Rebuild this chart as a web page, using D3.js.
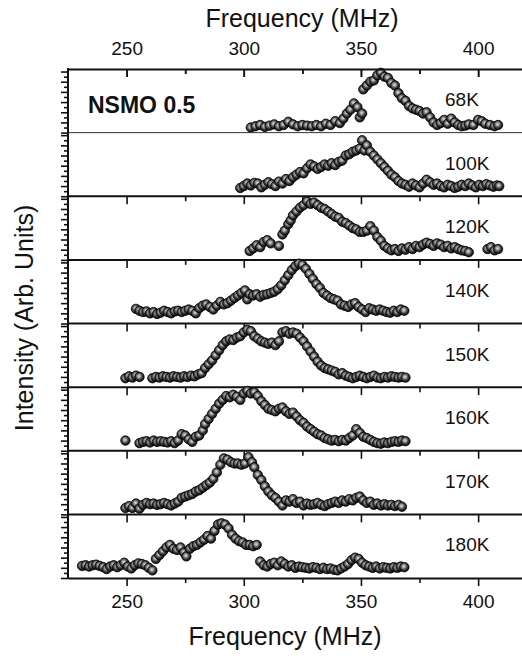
<!DOCTYPE html>
<html>
<head>
<meta charset="utf-8">
<script src="https://cdn.jsdelivr.net/npm/d3@7"></script>
<style>
  body { margin: 0; background: #fff; }
  text { font-family: 'Liberation Sans', Arial, sans-serif; fill: #111; }
</style>
</head>
<body>
<div id="canvas"></div>
<script>
/* global d3 */

// temperatures, one panel each (top to bottom)
const temps = ['68K', '100K', '120K', '140K', '150K', '160K', '170K', '180K']

// [frequency MHz, intensity (arb., 0..1 of panel)]
const s68 = [[303,.08],[305,.1],[307,.12],[309,.09],[311,.11],[313,.13],[315,.1],[317,.12],[319,.17],[321,.13],[323,.1],[325,.12],[327,.11],[329,.1],[331,.12],[333,.1],[335,.14],[337,.12],[339,.18],[341,.15],[342.5,.22],[344,.3],[345.5,.36],[347,.46],[348.5,.4],[349.5,.24],[350.5,.3],[351,.68],[352.5,.74],[354,.8],[355.5,.82],[357,.9],[358.5,.94],[360,.88],[361.5,.86],[363,.78],[364.5,.74],[366,.62],[367.5,.54],[369,.5],[370.5,.42],[372,.38],[373.5,.36],[375,.34],[376.5,.3],[378,.32],[379.5,.24],[381,.16],[382.5,.12],[384,.15],[385.5,.2],[387,.14],[388.5,.22],[390,.16],[391.5,.12],[393,.1],[394.5,.11],[396,.13],[398,.12],[400,.2],[401.5,.18],[403,.14],[405,.12],[407,.1],[408.5,.12]]

const s100 = [[298.5,.13],[300,.16],[301.5,.2],[303,.17],[304.5,.21],[306,.2],[307.5,.14],[309,.18],[310.5,.22],[312,.19],[313.5,.16],[315,.23],[316.5,.2],[318,.27],[319.5,.24],[321,.3],[322.5,.34],[324,.38],[325.5,.36],[327,.44],[328.5,.5],[330,.47],[331.5,.43],[333,.46],[334.5,.5],[336,.48],[337.5,.52],[339,.49],[340.5,.54],[342,.56],[343.5,.64],[345,.66],[346.5,.7],[348,.72],[349.5,.75],[350.5,.88],[351.5,.72],[352.5,.8],[354,.7],[355.5,.64],[357,.58],[358.5,.52],[360,.46],[361.5,.4],[363,.34],[364.5,.3],[366,.24],[367.5,.2],[369,.18],[370.5,.15],[372,.2],[373.5,.17],[375,.14],[376.5,.2],[378,.26],[379.5,.22],[381,.18],[382.5,.2],[384,.16],[385.5,.14],[387,.18],[388.5,.16],[390,.13],[391.5,.15],[393,.18],[394.5,.16],[396,.2],[397.5,.17],[399,.14],[400.5,.18],[402,.16],[403.5,.19],[405,.17],[406.5,.15],[408,.17],[409,.16]]

const s120 = [[302.5,.14],[304,.18],[305.5,.23],[307,.2],[308.5,.28],[310,.31],[311.5,.26],[315,.22],[316.5,.4],[317.5,.46],[319,.56],[320,.62],[321,.7],[322.5,.76],[324,.82],[325.5,.86],[327,.92],[328.5,.88],[330,.9],[331.5,.86],[333,.82],[334.5,.8],[336,.76],[337.5,.72],[339,.68],[340.5,.66],[342,.6],[343.5,.58],[345,.54],[346.5,.5],[348,.48],[349.5,.44],[351,.44],[352.5,.46],[354,.53],[355.5,.46],[357,.36],[358.5,.3],[360,.22],[361.5,.18],[363,.15],[364.5,.17],[366,.14],[367.5,.18],[369,.16],[370.5,.2],[372,.17],[373.5,.22],[375,.2],[376.5,.24],[378,.27],[379.5,.25],[381,.22],[382.5,.26],[384,.24],[385.5,.2],[387,.22],[388.5,.18],[390,.2],[391.5,.17],[393,.15],[394.5,.14],[396,.12],[404,.17],[405.5,.2],[407,.15],[408.5,.17]]

const s140 = [[254,.23],[255.5,.2],[257,.18],[258.5,.19],[260,.16],[261.5,.18],[263,.15],[264.5,.17],[266,.2],[267.5,.18],[269,.16],[270.5,.19],[272,.2],[273.5,.18],[275,.2],[276.5,.22],[278,.2],[279.5,.16],[281,.24],[282.5,.28],[284,.3],[285.5,.26],[287,.22],[288.5,.28],[290,.34],[291.5,.3],[293,.32],[294.5,.36],[296,.4],[297.5,.44],[299,.48],[300.5,.52],[301.5,.38],[302.5,.46],[304,.44],[305.5,.46],[307,.42],[308.5,.45],[310,.46],[311.5,.48],[313,.5],[314.5,.54],[316,.6],[317.5,.68],[319,.76],[320.5,.84],[322,.9],[323.5,.94],[325,.92],[326.5,.86],[328,.78],[329.5,.7],[331,.62],[332.5,.56],[334,.48],[335.5,.44],[337,.4],[338.5,.38],[340,.36],[341.5,.3],[343,.28],[344.5,.26],[346,.3],[347.5,.32],[349,.26],[350.5,.22],[352,.18],[353.5,.24],[355,.22],[356.5,.2],[358,.22],[359.5,.2],[361,.18],[362.5,.17],[364,.2],[365.5,.18],[367,.22],[368.5,.2]]

const s150 = [[249.5,.14],[251,.17],[252.5,.15],[254,.18],[255.5,.16],[261,.14],[262.5,.16],[264,.15],[265.5,.17],[267,.16],[268.5,.15],[270,.17],[271.5,.16],[273,.15],[274.5,.17],[276,.16],[277.5,.18],[279,.17],[280.5,.2],[282,.22],[283.5,.3],[285,.36],[286.5,.42],[288,.5],[289.5,.58],[291,.66],[292.5,.72],[294,.75],[295.5,.74],[297,.78],[298.5,.8],[300,.86],[301.5,.9],[303,.88],[304.5,.8],[306,.76],[307.5,.72],[309,.7],[310.5,.68],[312,.7],[313.5,.66],[315,.72],[316.5,.86],[318,.88],[319.5,.84],[321,.86],[322.5,.84],[324,.78],[325.5,.72],[327,.64],[328.5,.56],[330,.48],[331.5,.4],[333,.34],[334.5,.3],[336,.28],[337.5,.26],[339,.24],[340.5,.2],[342,.22],[343.5,.18],[345,.16],[346.5,.14],[348,.16],[349.5,.18],[351,.16],[352.5,.14],[354,.16],[355.5,.18],[357,.15],[358.5,.14],[360,.16],[361.5,.15],[363,.17],[364.5,.16],[366,.15],[367.5,.16],[369,.15]]

const s160 = [[249.5,.16],[255.5,.12],[257,.14],[258.5,.15],[260,.13],[261.5,.16],[263,.14],[264.5,.15],[266,.14],[267.5,.13],[269,.15],[270.5,.12],[272,.16],[273.5,.26],[275,.24],[276.5,.18],[278,.14],[279.5,.22],[281,.24],[282.5,.32],[283.5,.42],[285,.5],[286.5,.58],[288,.66],[289.5,.74],[291,.8],[292.5,.86],[294,.84],[295.5,.88],[297,.85],[298.5,.8],[300,.9],[301.5,.94],[303,.9],[304.5,.92],[306,.86],[307.5,.78],[309,.72],[310.5,.66],[312,.64],[313.5,.62],[315,.66],[316.5,.68],[318,.62],[319.5,.58],[321,.6],[322.5,.54],[324,.48],[325.5,.44],[327,.38],[328.5,.34],[330,.3],[331.5,.26],[333,.24],[334.5,.2],[336,.18],[337.5,.16],[339,.17],[340.5,.15],[342,.17],[343.5,.16],[345,.2],[346.5,.24],[348,.34],[349.5,.28],[351,.22],[352.5,.2],[354,.17],[355.5,.14],[357,.12],[358.5,.11],[360,.13],[361.5,.12],[363,.14],[364.5,.15],[366,.14],[367.5,.16],[369,.15]]

const s170 = [[249.5,.1],[251,.13],[252.5,.1],[254,.17],[255.5,.09],[257,.15],[258.5,.18],[260,.16],[261.5,.17],[263,.15],[264.5,.16],[266,.18],[267.5,.16],[269,.14],[270.5,.17],[272,.2],[273.5,.26],[275,.28],[276.5,.3],[278,.32],[279.5,.36],[281,.38],[282.5,.42],[284,.46],[285.5,.5],[287,.56],[288.5,.66],[290,.78],[291.5,.88],[293,.86],[294.5,.82],[296,.8],[297.5,.8],[299,.78],[300.5,.8],[302,.9],[303.5,.82],[304.5,.74],[306,.62],[307.5,.54],[309,.44],[310.5,.36],[312,.3],[313.5,.26],[315,.2],[316.5,.14],[318,.22],[319.5,.2],[321,.24],[322.5,.18],[324,.2],[325.5,.14],[327,.17],[328.5,.15],[330,.16],[331.5,.18],[333,.15],[334.5,.13],[336,.16],[337.5,.18],[339,.2],[340.5,.18],[342,.22],[343.5,.2],[345,.24],[346.5,.22],[348,.26],[349.5,.28],[351,.22],[352.5,.18],[354,.2],[355.5,.15],[357,.17],[358.5,.14],[360,.16],[361.5,.14],[363,.15],[364.5,.13],[366,.15],[367.5,.12]]

const s180 = [[231,.19],[232.5,.2],[234,.18],[235.5,.2],[237,.21],[238.5,.19],[240,.17],[241.5,.14],[243,.18],[244.5,.2],[246,.17],[247.5,.2],[249,.24],[250.5,.18],[252,.15],[253.5,.2],[255,.23],[256.5,.22],[258,.2],[259.5,.16],[261,.12],[262.5,.3],[264,.36],[265.5,.42],[267,.48],[268.5,.52],[270,.46],[271.5,.44],[273,.48],[274.5,.4],[275.5,.34],[277,.46],[278.5,.5],[280,.52],[281.5,.56],[283,.6],[284.5,.66],[286,.62],[287.5,.74],[289,.84],[290.5,.86],[292,.84],[293.5,.78],[295,.68],[296.5,.62],[298,.58],[299.5,.56],[301,.52],[302.5,.52],[304,.5],[305.5,.52],[307,.26],[308.5,.2],[310,.18],[311.5,.22],[313,.24],[314.5,.2],[316,.26],[317.5,.22],[319,.18],[320.5,.2],[322,.16],[323.5,.18],[325,.17],[326.5,.16],[328,.15],[329.5,.17],[331,.16],[332.5,.14],[334,.16],[335.5,.14],[337,.15],[338.5,.13],[340,.12],[341.5,.15],[343,.18],[344.5,.22],[346,.28],[347.5,.32],[349,.3],[350.5,.24],[352,.2],[353.5,.18],[355,.16],[356.5,.18],[358,.15],[359.5,.17],[361,.16],[362.5,.15],[364,.17],[365.5,.16],[367,.18],[368.5,.17]]

const spectra = [s68, s100, s120, s140, s150, s160, s170, s180]

const majorTicks = [250, 300, 350, 400]
const minorTicks = [275, 325, 375]

var margin = {top: 69, left: 68, bottom: 578},
  width = 522,
  height = 656

var svg = d3.select('#canvas')
  .append('svg')
  .attr('width', width)
  .attr('height', height)

// shaded ball marker
var grad = svg.append('defs').append('radialGradient')
  .attr('id', 'ball')
  .attr('cx', '45%').attr('cy', '42%').attr('r', '58%')
grad.append('stop').attr('offset', '0%').attr('stop-color', '#e6e6e6')
grad.append('stop').attr('offset', '30%').attr('stop-color', '#9a9a9a')
grad.append('stop').attr('offset', '62%').attr('stop-color', '#3c3c3c')
grad.append('stop').attr('offset', '100%').attr('stop-color', '#080808')

const x = d3.scaleLinear()
  .domain([225, 420])
  .range([margin.left, 525])

const band = d3.scaleBand()
  .domain(temps)
  .range([margin.top, margin.bottom])

// the 100K panel has no tick marks on its upper edge
const hasTopTicks = t => t !== '100K'

function clean (g) {
  g.select('.domain').remove()
  g.selectAll('line').attr('stroke', '#111').attr('stroke-width', 1.6)
}

temps.forEach((t, i) => {
  const top = band(t)
  const bot = top + band.bandwidth()
  const y = d3.scaleLinear().domain([0, 1]).range([bot, top])

  // separator line
  if (i > 0) {
    svg.append('line')
      .attr('x1', margin.left).attr('x2', width)
      .attr('y1', top).attr('y2', top)
      .attr('stroke', i === 1 ? '#333' : '#111')
      .attr('stroke-width', i === 1 ? 1 : 2)
  }

  if (hasTopTicks(t)) {
    svg.append('g')
      .attr('transform', `translate(0,${top})`)
      .call(d3.axisBottom(x).tickValues(majorTicks).tickSize(8).tickFormat(''))
      .call(clean)
    svg.append('g')
      .attr('transform', `translate(0,${top})`)
      .call(d3.axisBottom(x).tickValues(minorTicks).tickSize(5).tickFormat(''))
      .call(clean)
  }

  // left ticks (outward)
  svg.append('g')
    .attr('transform', `translate(${margin.left},0)`)
    .call(d3.axisLeft(y).tickValues(d3.range(0, 0.99, 0.16)).tickSize(7).tickFormat(''))
    .call(clean)
  svg.append('g')
    .attr('transform', `translate(${margin.left},0)`)
    .call(d3.axisLeft(y).tickValues(d3.range(0.08, 0.99, 0.16)).tickSize(4).tickFormat(''))
    .call(clean)

  svg.append('text')
    .attr('x', 445)
    .attr('y', top + 37)
    .attr('font-size', '19px')
    .text(t)

  svg.append('g')
    .selectAll('circle')
    .data(spectra[i])
    .enter()
    .append('circle')
    .attr('cx', d => x(d[0]))
    .attr('cy', d => y(d[1]))
    .attr('r', 4.7)
    .attr('fill', 'url(#ball)')
    .attr('stroke', '#000')
    .attr('stroke-width', 0.8)
})

// top axis
svg.append('g')
  .attr('transform', `translate(0,${margin.top})`)
  .call(d3.axisTop(x).tickValues(majorTicks).tickSizeInner(-8).tickSizeOuter(0).tickPadding(14))
  .call(g => {
    g.select('.domain').attr('stroke', '#111').attr('stroke-width', 2)
    g.selectAll('line').attr('stroke', '#111').attr('stroke-width', 1.6)
    g.selectAll('text').attr('font-size', '19px').attr('font-family', null)
  })
svg.append('g')
  .attr('transform', `translate(0,${margin.top})`)
  .call(d3.axisBottom(x).tickValues(minorTicks).tickSize(5).tickFormat(''))
  .call(clean)

// bottom axis
svg.append('g')
  .attr('transform', `translate(0,${margin.bottom})`)
  .call(d3.axisBottom(x).tickValues(majorTicks).tickSizeInner(8).tickSizeOuter(0).tickPadding(9))
  .call(g => {
    g.select('.domain').attr('stroke', '#111').attr('stroke-width', 2)
    g.selectAll('line').attr('stroke', '#111').attr('stroke-width', 1.6)
    g.selectAll('text').attr('font-size', '19px').attr('font-family', null)
  })
svg.append('g')
  .attr('transform', `translate(0,${margin.bottom})`)
  .call(d3.axisBottom(x).tickValues(minorTicks).tickSize(5).tickFormat(''))
  .call(clean)

// left frame
svg.append('line')
  .attr('x1', margin.left).attr('x2', margin.left)
  .attr('y1', margin.top - 1).attr('y2', margin.bottom + 1)
  .attr('stroke', '#111').attr('stroke-width', 2)

svg.append('text')
  .attr('x', 88).attr('y', 113)
  .attr('font-size', '23px').attr('font-weight', 'bold')
  .text('NSMO 0.5')

svg.append('text')
  .attr('x', 302).attr('y', 27)
  .attr('text-anchor', 'middle')
  .attr('font-size', '25px')
  .text('Frequency (MHz)')

svg.append('text')
  .attr('x', 285).attr('y', 645)
  .attr('text-anchor', 'middle')
  .attr('font-size', '25px')
  .text('Frequency (MHz)')

svg.append('text')
  .attr('transform', 'translate(33,318) rotate(-90)')
  .attr('text-anchor', 'middle')
  .attr('font-size', '25px')
  .text('Intensity (Arb. Units)')
</script>
</body>
</html>
